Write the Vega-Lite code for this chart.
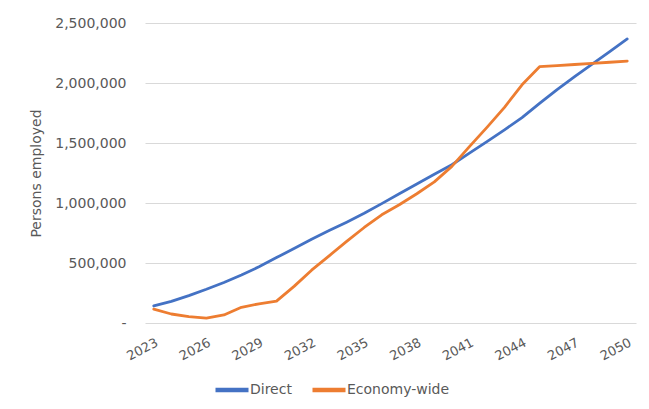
{
  "$schema": "https://vega.github.io/schema/vega-lite/v6.json",
  "width": 491,
  "height": 300,
  "autosize": {"type": "none"},
  "padding": {"left": 145, "top": 23, "right": 13, "bottom": 86},
  "background": "white",
  "config": {
    "view": {"stroke": null},
    "font": "DejaVu Sans"
  },
  "data": {
    "values": [
      {"year": 2023, "series": "Direct", "value": 142000},
      {"year": 2024, "series": "Direct", "value": 180000},
      {"year": 2025, "series": "Direct", "value": 228000},
      {"year": 2026, "series": "Direct", "value": 281000},
      {"year": 2027, "series": "Direct", "value": 338000},
      {"year": 2028, "series": "Direct", "value": 400000},
      {"year": 2029, "series": "Direct", "value": 468000},
      {"year": 2030, "series": "Direct", "value": 545000},
      {"year": 2031, "series": "Direct", "value": 620000},
      {"year": 2032, "series": "Direct", "value": 698000},
      {"year": 2033, "series": "Direct", "value": 770000},
      {"year": 2034, "series": "Direct", "value": 840000},
      {"year": 2035, "series": "Direct", "value": 914000},
      {"year": 2036, "series": "Direct", "value": 995000},
      {"year": 2037, "series": "Direct", "value": 1077000},
      {"year": 2038, "series": "Direct", "value": 1158000},
      {"year": 2039, "series": "Direct", "value": 1239000},
      {"year": 2040, "series": "Direct", "value": 1319000},
      {"year": 2041, "series": "Direct", "value": 1416000},
      {"year": 2042, "series": "Direct", "value": 1512000},
      {"year": 2043, "series": "Direct", "value": 1610000},
      {"year": 2044, "series": "Direct", "value": 1712000},
      {"year": 2045, "series": "Direct", "value": 1830000},
      {"year": 2046, "series": "Direct", "value": 1945000},
      {"year": 2047, "series": "Direct", "value": 2053000},
      {"year": 2048, "series": "Direct", "value": 2158000},
      {"year": 2049, "series": "Direct", "value": 2262000},
      {"year": 2050, "series": "Direct", "value": 2367000},
      {"year": 2023, "series": "Economy-wide", "value": 115000},
      {"year": 2024, "series": "Economy-wide", "value": 75000},
      {"year": 2025, "series": "Economy-wide", "value": 53000},
      {"year": 2026, "series": "Economy-wide", "value": 40000},
      {"year": 2027, "series": "Economy-wide", "value": 67000},
      {"year": 2028, "series": "Economy-wide", "value": 131000},
      {"year": 2029, "series": "Economy-wide", "value": 160000},
      {"year": 2030, "series": "Economy-wide", "value": 182000},
      {"year": 2031, "series": "Economy-wide", "value": 305000},
      {"year": 2032, "series": "Economy-wide", "value": 440000},
      {"year": 2033, "series": "Economy-wide", "value": 560000},
      {"year": 2034, "series": "Economy-wide", "value": 680000},
      {"year": 2035, "series": "Economy-wide", "value": 796000},
      {"year": 2036, "series": "Economy-wide", "value": 902000},
      {"year": 2037, "series": "Economy-wide", "value": 985000},
      {"year": 2038, "series": "Economy-wide", "value": 1077000},
      {"year": 2039, "series": "Economy-wide", "value": 1176000},
      {"year": 2040, "series": "Economy-wide", "value": 1305000},
      {"year": 2041, "series": "Economy-wide", "value": 1470000},
      {"year": 2042, "series": "Economy-wide", "value": 1630000},
      {"year": 2043, "series": "Economy-wide", "value": 1797000},
      {"year": 2044, "series": "Economy-wide", "value": 1985000},
      {"year": 2045, "series": "Economy-wide", "value": 2136000},
      {"year": 2046, "series": "Economy-wide", "value": 2145000},
      {"year": 2047, "series": "Economy-wide", "value": 2154000},
      {"year": 2048, "series": "Economy-wide", "value": 2164000},
      {"year": 2049, "series": "Economy-wide", "value": 2173000},
      {"year": 2050, "series": "Economy-wide", "value": 2183000}
    ]
  },
  "mark": {"type": "line", "strokeWidth": 2.8, "strokeJoin": "round", "strokeCap": "round"},
  "encoding": {
    "x": {
      "field": "year",
      "type": "quantitative",
      "scale": {"domain": [2022.5, 2050.5], "nice": false, "zero": false},
      "axis": {
        "title": null,
        "values": [2023, 2026, 2029, 2032, 2035, 2038, 2041, 2044, 2047, 2050],
        "format": "d",
        "grid": false,
        "domain": false,
        "ticks": false,
        "labelAngle": -28,
        "labelAlign": "right",
        "labelBaseline": "top",
        "labelPadding": 13,
        "labelFontSize": 13,
        "labelColor": "#595959",
        "labelFlush": false,
        "labelOverlap": false
      }
    },
    "y": {
      "field": "value",
      "type": "quantitative",
      "scale": {"domain": [0, 2500000], "nice": false},
      "axis": {
        "title": "Persons employed",
        "titleFontSize": 14,
        "titleFontWeight": "normal",
        "titleColor": "#595959",
        "titlePadding": 11,
        "values": [0, 500000, 1000000, 1500000, 2000000, 2500000],
        "labelExpr": "datum.value == 0 ? '-\u00a0\u00a0' : format(datum.value, ',')",
        "grid": true,
        "gridColor": "#d9d9d9",
        "gridWidth": 1,
        "domain": false,
        "ticks": false,
        "labelPadding": 19,
        "labelFontSize": 14,
        "labelColor": "#595959"
      }
    },
    "color": {
      "field": "series",
      "type": "nominal",
      "scale": {"domain": ["Direct", "Economy-wide"], "range": ["#4472C4", "#ED7D31"]},
      "legend": {
        "title": null,
        "orient": "none",
        "direction": "horizontal",
        "legendX": 68,
        "legendY": 348,
        "symbolType": "stroke",
        "symbolSize": 1089,
        "symbolStrokeWidth": 4.5,
        "labelFontSize": 14,
        "labelColor": "#595959",
        "labelOffset": -1,
        "columnPadding": 11
      }
    }
  }
}
